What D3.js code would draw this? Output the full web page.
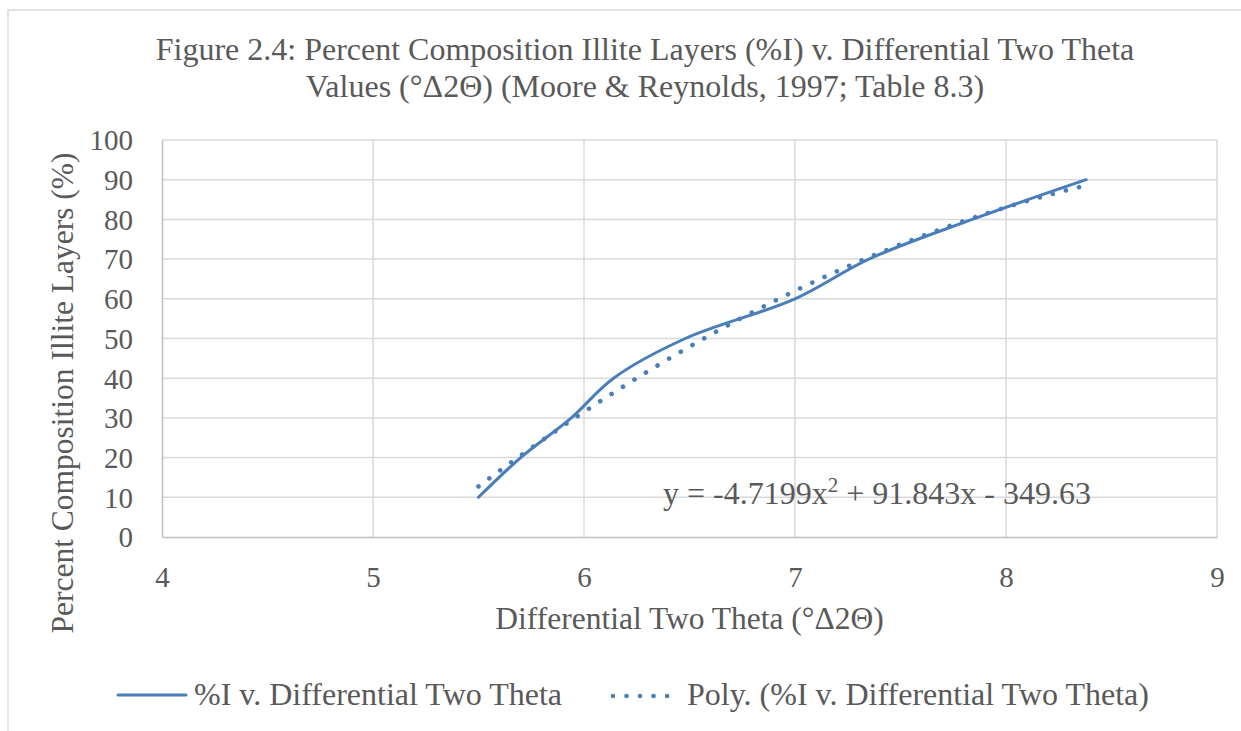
<!DOCTYPE html>
<html>
<head>
<meta charset="utf-8">
<script src="https://cdn.jsdelivr.net/npm/d3@7"></script>
<style>
  body { margin: 0; background: #fff; }
  text { font-family: "Liberation Serif", "Times New Roman", serif; fill: #595959; }
</style>
</head>
<body>
<div id="chart"></div>
<script>
// Data (%I vs differential two theta)
var twoTheta = [5.5, 5.7, 5.94, 6.14, 6.48, 7.0, 7.35, 7.84, 8.38];
var percentIllite = [10, 20, 30, 40, 50, 60, 70, 80, 90];
// Polynomial trendline coefficients shown on the chart (a x^2 + b x + c)
var polyCoef = [-4.7199, 91.843, -349.63];
var xTicks = [4, 5, 6, 7, 8, 9];
var yTicks = [0, 10, 20, 30, 40, 50, 60, 70, 80, 90, 100];

var svgWidth = 1241;
var svgHeight = 731;
var blue = "#4a7ebb";

var margin = { top: 140, left: 162, right: 24, bottom: 194 };
var width = svgWidth - margin.left - margin.right;
var height = svgHeight - margin.top - margin.bottom;

var svg = d3.select("#chart")
  .append("svg")
  .attr("width", svgWidth)
  .attr("height", svgHeight);

// chart area frame
svg.append("path")
  .attr("d", "M8," + svgHeight + "V10H" + svgWidth)
  .attr("fill", "none")
  .attr("stroke", "#d9d9d9")
  .attr("stroke-width", 1.5);

var chartGroup = svg.append("g")
  .attr("transform", `translate(${margin.left}, ${margin.top})`);

var xScale = d3.scaleLinear().domain([4, 9]).range([0, width]);
var yScale = d3.scaleLinear().domain([0, 100]).range([height, 0]);

// gridlines
chartGroup.append("g")
  .selectAll("line")
  .data(yTicks.slice(1))
  .enter()
  .append("line")
  .attr("x1", 0).attr("x2", width)
  .attr("y1", d => yScale(d)).attr("y2", d => yScale(d))
  .attr("stroke", "#d9d9d9").attr("stroke-width", 1.5);

chartGroup.append("g")
  .selectAll("line")
  .data(xTicks.slice(1))
  .enter()
  .append("line")
  .attr("x1", d => xScale(d)).attr("x2", d => xScale(d))
  .attr("y1", 0).attr("y2", height)
  .attr("stroke", "#d9d9d9").attr("stroke-width", 1.5);

// axes
var bottomAxis = d3.axisBottom(xScale).tickValues(xTicks).tickFormat(d3.format("d"))
  .tickSize(0).tickPadding(29);
var leftAxis = d3.axisLeft(yScale).tickValues(yTicks).tickFormat(d3.format("d"))
  .tickSize(0).tickPadding(29);

var xAxisG = chartGroup.append("g")
  .attr("transform", `translate(0, ${height})`)
  .call(bottomAxis);
var yAxisG = chartGroup.append("g").call(leftAxis);

[xAxisG, yAxisG].forEach(function(g) {
  g.select(".domain").attr("stroke", "#bfbfbf").attr("stroke-width", 1.5);
  g.selectAll("text")
    .style("font-family", "'Liberation Serif', serif")
    .style("font-size", "29px")
    .attr("fill", "#595959");
});
yAxisG.selectAll("text").attr("dy", "0.34em");

// series line
var line = d3.line()
  .x(d => xScale(d[0]))
  .y(d => yScale(d[1]))
  .curve(d3.curveCatmullRom.alpha(0.5));

var seriesData = twoTheta.map((t, i) => [t, percentIllite[i]]);

chartGroup.append("path")
  .datum(seriesData)
  .attr("d", line)
  .attr("fill", "none")
  .attr("stroke", blue)
  .attr("stroke-width", 3)
  .attr("stroke-linecap", "round");

// polynomial trendline (dotted)
var polyData = d3.range(0, 101).map(function(i) {
  var x = twoTheta[0] + (twoTheta[twoTheta.length - 1] - twoTheta[0]) * i / 100;
  return [x, polyCoef[0] * x * x + polyCoef[1] * x + polyCoef[2]];
});

chartGroup.append("path")
  .datum(polyData)
  .attr("d", d3.line().x(d => xScale(d[0])).y(d => yScale(d[1])))
  .attr("fill", "none")
  .attr("stroke", blue)
  .attr("stroke-width", 4.6)
  .attr("stroke-linecap", "round")
  .attr("stroke-dasharray", "0.01 13.5");

// equation label
chartGroup.append("text")
  .attr("x", 501)
  .attr("y", 364)
  .style("font-size", "32px")
  .html("y = -4.7199x<tspan dy='-12' style='font-size:21px'>2</tspan><tspan dy='12'> + 91.843x - 349.63</tspan>");

// title
svg.append("text")
  .attr("x", 645).attr("y", 60)
  .attr("text-anchor", "middle")
  .style("font-size", "32px")
  .text("Figure 2.4: Percent Composition Illite Layers (%I) v. Differential Two Theta");
svg.append("text")
  .attr("x", 645).attr("y", 97)
  .attr("text-anchor", "middle")
  .style("font-size", "32px")
  .text("Values (°Δ2Θ) (Moore & Reynolds, 1997; Table 8.3)");

// axis titles
svg.append("text")
  .attr("x", margin.left + width / 2).attr("y", 629)
  .attr("text-anchor", "middle")
  .style("font-size", "31.5px")
  .text("Differential Two Theta (°Δ2Θ)");

svg.append("text")
  .attr("transform", "translate(73, 393) rotate(-90)")
  .attr("text-anchor", "middle")
  .style("font-size", "31.5px")
  .text("Percent Composition Illite Layers (%)");

// legend
var legend = svg.append("g");
legend.append("line")
  .attr("x1", 118).attr("x2", 186).attr("y1", 695).attr("y2", 695)
  .attr("stroke", blue).attr("stroke-width", 3).attr("stroke-linecap", "round");
legend.append("text")
  .attr("x", 194).attr("y", 705)
  .style("font-size", "32px")
  .text("%I v. Differential Two Theta");
legend.append("line")
  .attr("x1", 613).attr("x2", 668).attr("y1", 696).attr("y2", 696)
  .attr("stroke", blue).attr("stroke-width", 4.6).attr("stroke-linecap", "round")
  .attr("stroke-dasharray", "0.01 13.5");
legend.append("text")
  .attr("x", 687).attr("y", 705)
  .style("font-size", "32px")
  .text("Poly. (%I v. Differential Two Theta)");
</script>
</body>
</html>
